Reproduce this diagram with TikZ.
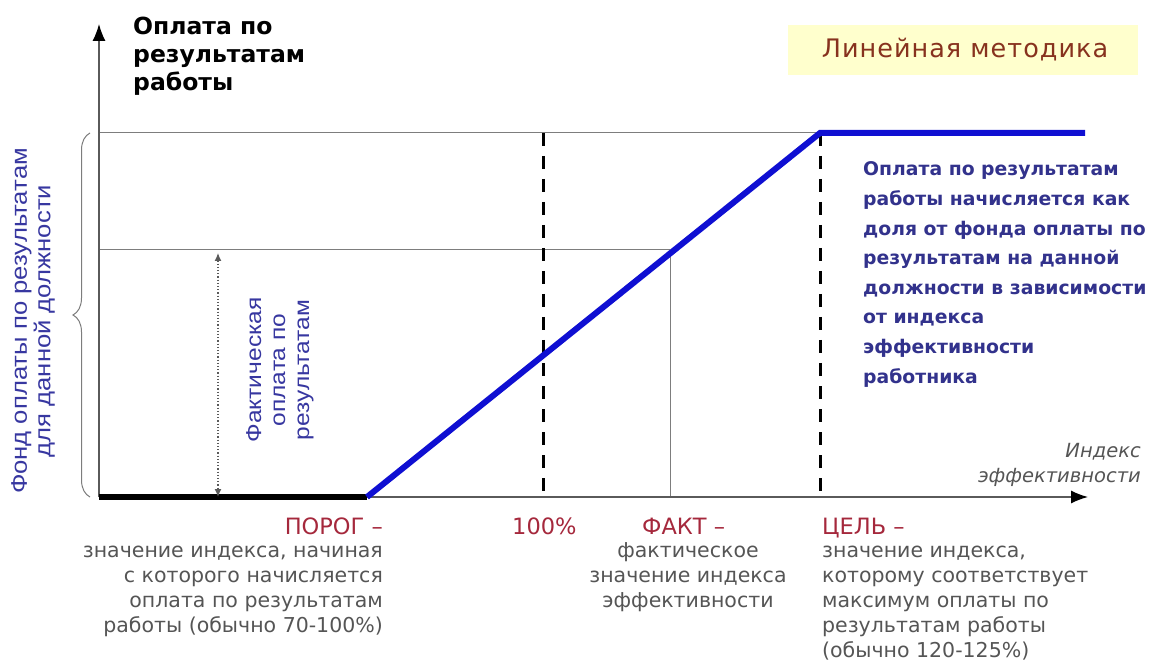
\documentclass[tikz,border=0pt]{standalone}
\usepackage{fontspec}
\setmainfont{DejaVu Sans}
\newfontfamily\arialf[FakeStretch=1.14]{Liberation Sans}
\newfontfamily\verdf{DejaVu Sans}
\newfontfamily\titlef[LetterSpace=4]{DejaVu Sans}
\usetikzlibrary{arrows.meta,decorations.pathreplacing}
\definecolor{lineblue}{RGB}{15,15,210}
\definecolor{txtblue}{RGB}{50,50,140}
\definecolor{sideblue}{RGB}{55,55,160}
\definecolor{lblred}{RGB}{165,40,60}
\definecolor{txtgray}{RGB}{85,85,85}
\definecolor{axgray}{RGB}{90,90,90}
\definecolor{thingray}{RGB}{125,125,125}
\definecolor{boxyellow}{RGB}{255,255,205}
\definecolor{titlered}{RGB}{135,50,30}
\tikzset{
  axis/.style={draw=axgray, line width=1.3pt, -{Latex[length=17pt,width=13pt,black]}},
  thin gray/.style={draw=thingray, line width=1pt},
  dashline/.style={draw=black, line width=3pt, dash pattern=on 13pt off 10pt},
  thickline/.style={line width=6pt},
  redlbl/.style={text=lblred, font=\verdf\fontsize{22.5}{25}\selectfont, inner sep=0pt},
  graytxt/.style={text=txtgray, font=\verdf\fontsize{20.5}{25}\selectfont, inner sep=0pt},
  bluetxt/.style={text=sideblue, inner sep=0pt},
}
\begin{document}
\begin{tikzpicture}[x=1pt,y=-1pt]
\useasboundingbox (0,0) rectangle (1157,660);
% points
\coordinate (O) at (99,497);
\coordinate (Ytip) at (99,24);
\coordinate (Xtip) at (1088,497);
\coordinate (P) at (367,497);
\coordinate (C) at (820,133);
\coordinate (E) at (1085,133);
\coordinate (T) at (99,133);
\coordinate (M) at (99,250);
\coordinate (F) at (670,250);
\coordinate (Fb) at (670,497);
\coordinate (H) at (543,133);
\coordinate (Hb) at (543,497);
\coordinate (Cb) at (820,497);
\coordinate (Da) at (218,253);
\coordinate (Db) at (218,497);
\coordinate (Ba) at (90,497);
\coordinate (Bb) at (90,133);
% title box
\node[fill=boxyellow, minimum width=350pt, minimum height=50pt, anchor=north west, inner sep=0pt] (box) at (788,25) {};
\node[text=titlered, font=\titlef\fontsize{25.5}{30}\selectfont, inner sep=0pt, anchor=base] (boxtxt) at (965,58) {Линейная методика};
% grid lines
\draw[thin gray] (T) -- (C);
\draw[thin gray] (M) -- (F);
\draw[thin gray] (F) -- (Fb);
% axes
\draw[axis] (O) -- (Ytip);
\draw[axis] (O) -- (Xtip);
% dashed
\draw[dashline] (H) -- (Hb);
\draw[dashline] (C) -- (Cb);
% thick
\draw[thickline, black] (O) -- (P);
\draw[thickline, lineblue, line join=miter] (P) -- (C) -- (E);
% dotted double arrow
\draw[draw=axgray, line width=1.2pt, dotted, {Latex[length=8pt,width=7pt]}-{Latex[length=8pt,width=7pt]}] (Da) -- (Db);
% brace
\draw[draw=thingray, line width=1pt, decorate, decoration={brace, amplitude=17pt}] (Ba) -- (Bb);
% title
\node[anchor=base west, align=left, font=\verdf\bfseries\fontsize{23.5}{28}\selectfont, inner sep=0pt] (ttl) at (133,91) {Оплата по\\результатам\\работы};
% left rotated
\node[bluetxt, rotate=90, align=center, font=\arialf\fontsize{22.5}{23.5}\selectfont] (fond) at (33,321) {Фонд оплаты по результатам\\для данной должности};
\node[bluetxt, rotate=90, align=center, font=\arialf\fontsize{21.5}{24}\selectfont] (fakt) at (280,370) {Фактическая\\оплата по\\результатам};
% right text
\node[text=txtblue, inner sep=0pt, anchor=base west, align=left, font=\verdf\bfseries\fontsize{18.8}{29.6}\selectfont] (desc) at (863,383) {Оплата по результатам\\работы начисляется как\\доля от фонда оплаты по\\результатам на данной\\должности в зависимости\\от индекса\\эффективности\\работника};
% axis label
\node[anchor=base east, align=right, text=txtgray, font=\verdf\itshape\fontsize{19.5}{25}\selectfont, inner sep=0pt] (xlbl) at (1141,482) {Индекс\\эффективности};
% bottom labels
\node[redlbl, anchor=base east] (porog) at (383,534) {ПОРОГ –};
\node[graytxt, anchor=base east, align=right] (porogt) at (383,632) {значение индекса, начиная\\с которого начисляется\\оплата по результатам\\работы (обычно 70-100\%)};
\node[redlbl, anchor=base west] (sto) at (512,534) {100\%};
\node[redlbl, anchor=base west] (fact) at (642,534) {ФАКТ –};
\node[graytxt, anchor=base, align=center] (factt) at (688,607) {фактическое\\значение индекса\\эффективности};
\node[redlbl, anchor=base west] (goal) at (822,534) {ЦЕЛЬ –};
\node[graytxt, anchor=base west, align=left] (goalt) at (822,657) {значение индекса,\\которому соответствует\\максимум оплаты по\\результатам работы\\(обычно 120-125\%)};
\end{tikzpicture}
\end{document}
